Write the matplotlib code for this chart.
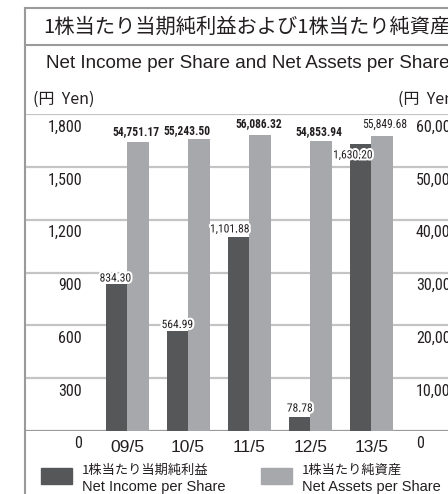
import matplotlib
matplotlib.use('Agg')
import matplotlib.pyplot as plt
import matplotlib.patheffects as pe
from matplotlib.patches import Rectangle
from matplotlib.lines import Line2D
import numpy as np

# data
years = ['09/5', '10/5', '11/5', '12/5', '13/5']
income = [834.30, 564.99, 1101.88, 78.78, 1630.20]
assets = [54751.17, 55243.50, 56086.32, 54853.94, 55849.68]
left_ticks = [0, 300, 600, 900, 1200, 1500, 1800]
right_ticks = [0, 10000, 20000, 30000, 40000, 50000, 60000]

title_jp = '1株当たり当期純利益および1株当たり純資産'
title_en = 'Net Income per Share and Net Assets per Share'
legend_jp = ['1株当たり当期純利益', '1株当たり純資産']
legend_en = ['Net Income per Share', 'Net Assets per Share']

DARK = '#565759'
LIGHT = '#a7a8ab'
GRID = '#c4c4c4'
EDGE = '#9a9a9a'
TXT = '#231f20'
JP = ['Noto Sans CJK JP', 'DejaVu Sans']
SANS = ['Liberation Sans', 'DejaVu Sans']
NARROW = ['Roboto Condensed', 'DejaVu Sans']

W, H = 448, 494
fig = plt.figure(figsize=(W / 100, H / 100), dpi=100)

def fx(px):
    return px / W

def fy(py):
    return 1 - py / H

# plot area: x 25..448 px, y 114 (top) .. 431 (zero)
ax = fig.add_axes([fx(25), fy(431), (W - 25) / W, (431 - 114) / H])
ax2 = ax.twinx()

step = 61.1
c0 = 127
ax.set_xlim((25 - c0) / step, (W - c0) / step)
ax.set_ylim(0, 1800)
ax2.set_ylim(0, 60000)
for a in (ax, ax2):
    a.axis('off')

x = np.arange(len(years))
bw = 21.5 / step

for t in left_ticks:
    ax.axhline(t, color=EDGE if t == 0 else GRID, lw=1.6, zorder=0)

ax.bar(x - bw / 2, income, bw, color=DARK, zorder=2)
ax2.bar(x + bw / 2, assets, bw, color=LIGHT, zorder=2)

halo = [pe.withStroke(linewidth=3, foreground='white')]

# tick labels sit just below the gridlines
for t in left_ticks:
    ax.annotate(f'{t:,}', xy=((82 - 25) / (W - 25), t), xycoords=('axes fraction', 'data'),
                xytext=(0, -13), textcoords='offset pixels', ha='right', va='center',
                fontsize=11.5, family=NARROW, color=TXT)
for t in right_ticks:
    ax2.annotate(f'{t:,}', xy=((416 - 25) / (W - 25), t), xycoords=('axes fraction', 'data'),
                 xytext=(0, -13), textcoords='offset pixels', ha='left', va='center',
                 fontsize=11.5, family=NARROW, color=TXT)
for i, y in enumerate(years):
    ax.annotate(y, xy=(i, 0), xytext=(0, -16), textcoords='offset pixels',
                ha='center', va='center', fontsize=12.5, family=SANS, color=TXT)

# value labels
inc_off = [(-1, 6), (0, 7), (-9, 8), (0, 9), (-8, -11)]
for i, v in enumerate(income):
    dx, dy = inc_off[i]
    ax2.annotate(f'{v:,.2f}', xy=(i - bw / 2, v), xycoords=ax.transData,
                 xytext=(dx, dy), textcoords='offset pixels', ha='center', va='center',
                 fontsize=8.3, family=NARROW, color=TXT, path_effects=halo, zorder=5)
ast_off = [(-2, 10), (-12, 9), (-1, 11), (-2, 10), (2, 12)]
for i, v in enumerate(assets):
    dx, dy = ast_off[i]
    ax2.annotate(f'{v:,.2f}', xy=(i + bw / 2, v), xytext=(dx, dy), textcoords='offset pixels',
                 ha='center', va='center', fontsize=8.3, family=NARROW, color=TXT,
                 fontweight='normal' if i == len(assets) - 1 else 'bold', zorder=5)

# frame lines
fig.add_artist(Line2D([fx(25), fx(25)], [fy(8), 0], color=EDGE, lw=1.5))
fig.add_artist(Line2D([fx(25), 1], [fy(8), fy(8)], color=EDGE, lw=1.5))
fig.add_artist(Line2D([fx(25), 1], [fy(45), fy(45)], color=EDGE, lw=1.5))

fig.text(fx(43), fy(27), title_jp, fontsize=14.6, family=JP, color=TXT, va='center')
fig.text(fx(46), fy(63), title_en, fontsize=13.6, family=SANS, color=TXT, va='center')
fig.text(fx(33), fy(99), '(円  Yen)', fontsize=11.5, family=JP, color=TXT, va='center')
fig.text(fx(398), fy(99), '(円  Yen)', fontsize=11.5, family=JP, color=TXT, va='center')

# legend
for px, col, jp, en in [(41, DARK, legend_jp[0], legend_en[0]), (261, LIGHT, legend_jp[1], legend_en[1])]:
    fig.add_artist(Rectangle((fx(px), fy(484)), 31 / W, 16 / H, color=col))
    fig.text(fx(px + 41), fy(470), jp, fontsize=9.5, family=JP, color=TXT, va='center')
    fig.text(fx(px + 41), fy(487), en, fontsize=10.5, family=SANS, color=TXT, va='center')

fig.savefig('out.png', dpi=100)
